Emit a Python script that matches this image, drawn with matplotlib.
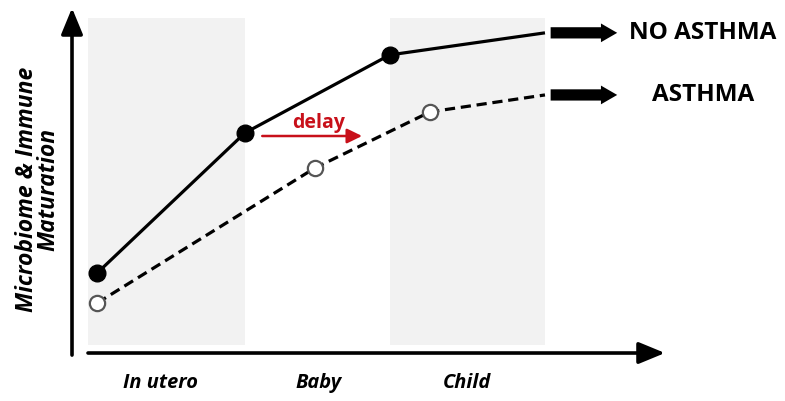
import matplotlib
matplotlib.use("Agg")
import matplotlib.pyplot as plt
from matplotlib.patches import Rectangle, FancyArrowPatch

# ---- data (arbitrary maturation units) ----
stage_labels = ["In utero", "Baby", "Child"]
stage_label_x = [1.25, 3.99, 6.57]
band_spans = [(0.0, 2.72), (5.23, 7.92)]

no_asthma_x = [0.16, 2.72, 5.23]
no_asthma_y = [2.32, 6.38, 8.64]
no_asthma_end = (7.92, 9.28)

asthma_x = [0.16, 3.93, 5.93]
asthma_y = [1.45, 5.36, 6.99]
asthma_end = (7.92, 7.48)

outcome_labels = ["NO ASTHMA", "ASTHMA"]

FONT = ["Open Sans", "DejaVu Sans"]

fig = plt.figure(figsize=(7.85, 4.01), dpi=100)
ax = fig.add_axes([0, 0, 1, 1])
ax.set_xlim(-1.525, 12.080)
ax.set_ylim(-1.391, 10.232)
ax.axis("off")

# shaded bands
for x0, x1 in band_spans:
    ax.add_patch(Rectangle((x0, 0.23), x1 - x0, 9.71 - 0.23, facecolor="#f2f2f2",
                           edgecolor="none", zorder=0))

# axes arrows
ax.annotate("", xy=(-0.277, 10.0), xytext=(-0.277, -0.06),
            arrowprops=dict(arrowstyle="-|>,head_length=0.8,head_width=0.33",
                            lw=2.6, color="black", mutation_scale=20,
                            shrinkA=0, shrinkB=0))
ax.annotate("", xy=(10.0, 0.0), xytext=(0.0, 0.0),
            arrowprops=dict(arrowstyle="-|>,head_length=0.8,head_width=0.33",
                            lw=2.6, color="black", mutation_scale=20,
                            shrinkA=0, shrinkB=0))

# lines
ax.plot(no_asthma_x + [no_asthma_end[0]], no_asthma_y + [no_asthma_end[1]],
        color="black", lw=2.3, zorder=3, solid_capstyle="butt")
ax.plot(no_asthma_x, no_asthma_y, "o", ms=12, color="black", zorder=4)

ax.plot(asthma_x + [asthma_end[0]], asthma_y + [asthma_end[1]],
        color="black", lw=2.3, dashes=(3.2, 1.8), zorder=3)
ax.plot(asthma_x, asthma_y, "o", ms=11, markerfacecolor="white",
        markeredgecolor="#555555", markeredgewidth=1.6, zorder=4)

# outcome arrows
for (ex, ey), lab in zip([no_asthma_end, asthma_end], outcome_labels):
    arr = FancyArrowPatch((ex + 0.05, ey), (ex + 1.3, ey),
                          arrowstyle="simple,head_width=0.75,head_length=0.65,tail_width=0.45",
                          mutation_scale=18, color="black", lw=0, zorder=3)
    ax.add_patch(arr)
    ax.text(10.66, ey, lab, ha="center", va="center", fontsize=17.5,
            fontweight="bold", family=FONT)

# delay arrow
ax.annotate("", xy=(4.75, 6.29), xytext=(3.02, 6.29),
            arrowprops=dict(arrowstyle="-|>,head_length=0.45,head_width=0.22",
                            lw=1.8, color="#c8101a", mutation_scale=20,
                            shrinkA=0, shrinkB=0))
ax.text(3.99, 6.66, "delay", ha="center", va="center", fontsize=14,
        fontweight="bold", color="#c8101a", family=FONT)

# stage labels
for lx, lab in zip(stage_label_x, stage_labels):
    ax.text(lx, -0.87, lab, ha="center", va="center", fontsize=14.4,
            fontweight="bold", style="italic", family=FONT)

ax.text(-0.867, 4.75, "Microbiome & Immune\nMaturation", ha="center", va="center",
        rotation=90, fontsize=16.5, fontweight="bold", style="italic",
        family=FONT, linespacing=0.85)

fig.savefig("out.png", dpi=100)
